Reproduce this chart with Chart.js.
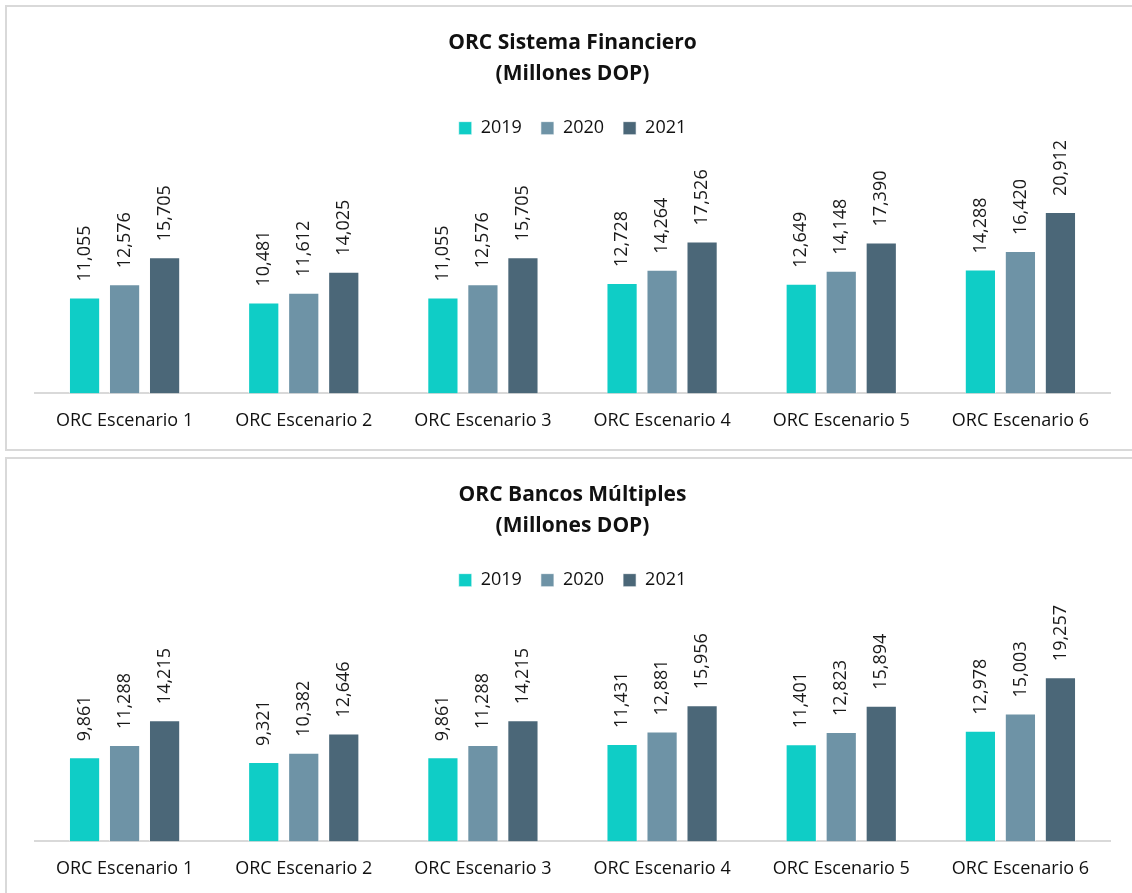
<!DOCTYPE html>
<html>
<head>
<meta charset="utf-8">
<script src="https://cdn.jsdelivr.net/npm/chart.js@4"></script>
<style>
  html, body { margin: 0; padding: 0; background: #fff; overflow: hidden; }
  .panel {
    position: absolute;
    left: 5px;
    width: 1150px;
    border: 2px solid #d9d9d9;
    background: #fff;
  }
  .panel canvas { display: block; }
</style>
</head>
<body>
<div class="panel" style="top:5px; height:442px;">
  <canvas id="chart-sistema" width="1130" height="442"></canvas>
</div>
<div class="panel" style="top:457px; height:450px;">
  <canvas id="chart-bancos" width="1130" height="438"></canvas>
</div>
<script>
// scenarios and yearly values (millones DOP)
const categories = ['ORC Escenario 1', 'ORC Escenario 2', 'ORC Escenario 3', 'ORC Escenario 4', 'ORC Escenario 5', 'ORC Escenario 6'];
const years = ['2019', '2020', '2021'];

const sistema2019 = [11055, 10481, 11055, 12728, 12649, 14288];
const sistema2020 = [12576, 11612, 12576, 14264, 14148, 16420];
const sistema2021 = [15705, 14025, 15705, 17526, 17390, 20912];

const bancos2019 = [9861, 9321, 9861, 11431, 11401, 12978];
const bancos2020 = [11288, 10382, 11288, 12881, 12823, 15003];
const bancos2021 = [14215, 12646, 14215, 15956, 15894, 19257];

const barColors = ['#0fcdc6', '#6e93a6', '#4b6778'];
const fontFamily = '"Open Sans", sans-serif';

// rotated value labels above each bar
const valueLabels = {
  id: 'valueLabels',
  afterDatasetsDraw(chart) {
    const ctx = chart.ctx;
    ctx.save();
    ctx.font = '18px ' + fontFamily;
    ctx.fillStyle = '#1a1a1a';
    ctx.textAlign = 'left';
    ctx.textBaseline = 'middle';
    chart.data.datasets.forEach((ds, i) => {
      chart.getDatasetMeta(i).data.forEach((bar, j) => {
        ctx.save();
        ctx.translate(bar.x, bar.y - 16);
        ctx.rotate(-Math.PI / 2);
        ctx.fillText(ds.data[j].toLocaleString('en-US'), 0, 0);
        ctx.restore();
      });
    });
    ctx.restore();
  }
};

function makeChart(id, title, series) {
  new Chart(document.getElementById(id), {
    type: 'bar',
    data: {
      labels: categories,
      datasets: series.map((values, i) => ({
        label: years[i],
        data: values,
        backgroundColor: barColors[i],
        borderColor: 'rgba(255,255,255,0.6)',
        borderWidth: 1,
        categoryPercentage: 0.67,
        barPercentage: 0.78
      }))
    },
    options: {
      responsive: false,
      animation: false,
      layout: {
        padding: { left: 28, right: 27, top: 0, bottom: 0 }
      },
      plugins: {
        title: {
          display: true,
          text: [title, '(Millones DOP)'],
          color: '#111',
          font: { family: fontFamily, size: 21, weight: 'bold', lineHeight: 1.48 },
          padding: { top: 20, bottom: 11 }
        },
        legend: {
          position: 'top',
          labels: {
            boxWidth: 13,
            boxHeight: 13,
            padding: 19,
            color: '#111',
            font: { family: fontFamily, size: 18 }
          }
        },
        tooltip: { enabled: false }
      },
      scales: {
        x: {
          grid: { display: false, drawTicks: false },
          border: { display: true, color: '#d9d9d9', width: 2 },
          ticks: {
            color: '#111',
            padding: 17,
            font: { family: fontFamily, size: 18 }
          }
        },
        y: {
          display: false,
          min: 0,
          max: 28400
        }
      }
    },
    plugins: [valueLabels]
  });
}

makeChart('chart-sistema', 'ORC Sistema Financiero', [sistema2019, sistema2020, sistema2021]);
makeChart('chart-bancos', 'ORC Bancos Múltiples', [bancos2019, bancos2020, bancos2021]);
</script>
</body>
</html>
